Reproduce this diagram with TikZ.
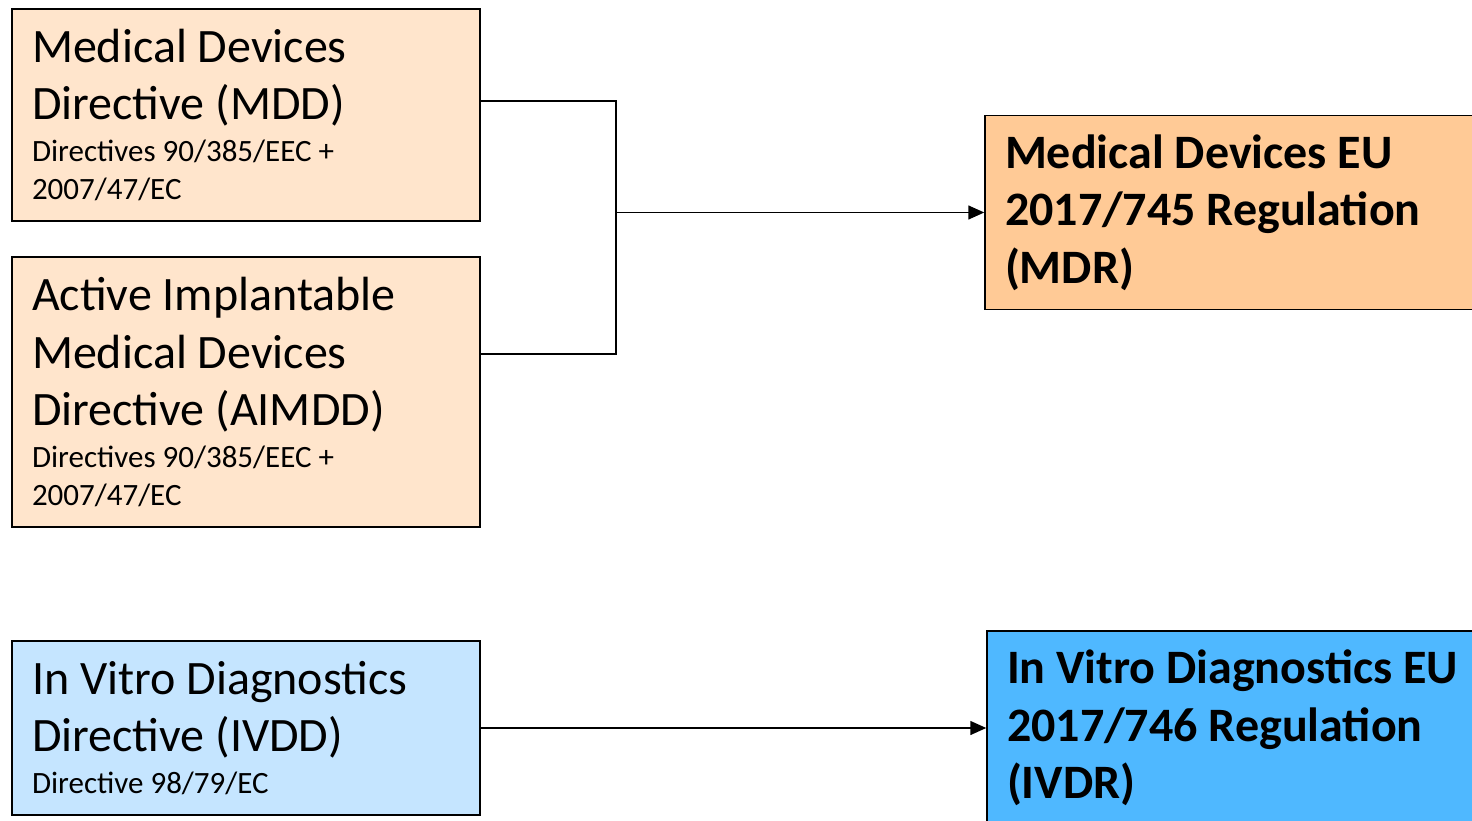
\documentclass[tikz,border=0pt]{standalone}
\usepackage{fontspec}
\setmainfont{Carlito}
\usetikzlibrary{arrows.meta}
\definecolor{oldpeach}{RGB}{255,229,204}
\definecolor{newpeach}{RGB}{255,202,150}
\definecolor{oldblue}{RGB}{197,229,255}
\definecolor{newblue}{RGB}{79,184,255}
\newcommand{\bigline}{\fontsize{48}{57.5}\selectfont\spaceskip=0pt\xspaceskip=0pt}
\newcommand{\smallline}{\par\vskip4pt\fontsize{31}{38}\selectfont\spaceskip=0pt\xspaceskip=0pt}

\begin{document}
\begin{tikzpicture}[x=1pt,y=-1pt,
  oldbox/.style={draw,line width=1.5pt,inner xsep=20pt,inner ysep=4pt,text width=428pt,
    minimum width=468pt,align=left,anchor=center},
  newbox/.style={draw,line width=1.5pt,inner xsep=20pt,inner ysep=4pt,text width=470pt,
    minimum width=510pt,minimum height=194pt,align=left,font=\bfseries},
  link/.style={line width=1.5pt},
  arrowlink/.style={line width=1.5pt,-{Triangle[length=16pt,width=14pt]}}]
  \useasboundingbox (0,0) rectangle (1472,821);
  \node[oldbox,fill=oldpeach,minimum height=212pt] (MDD) at (246,115)
    {\bigline Medical Devices\\Directive (MDD)
     \smallline Directives 90/385/EEC +\\2007/47/EC\par};
  \node[oldbox,fill=oldpeach,minimum height=270pt] (AIMDD) at (246,392)
    {\bigline Active Implantable\\Medical Devices\\Directive (AIMDD)
     \smallline Directives 90/385/EEC +\\2007/47/EC\par};
  \node[oldbox,fill=oldblue,minimum height=174pt] (IVDD) at (246,728)
    {\bigline In Vitro Diagnostics\\Directive (IVDD)
     \smallline Directive 98/79/EC\par};
  \node[newbox,fill=newpeach] (MDR) at (1240,212.5)
    {\bigline Medical Devices EU\\2017/745 Regulation\\(MDR)\par\vskip-6pt};
  \node[newbox,fill=newblue] (IVDR) at (1242,728)
    {\bigline In Vitro Diagnostics EU\\2017/746 Regulation\\(IVDR)\par\vskip-6pt};
  \coordinate (J-1) at (616,101);
  \coordinate (J-2) at (616,354);
  \coordinate (J-3) at (616,212.5);
  \draw[link] (MDD.east |- J-1) -- (J-1) -- (J-2) -- (AIMDD.east |- J-2);
  \draw[arrowlink] (J-3) -- (MDR.west);
  \draw[arrowlink] (IVDD.east) -- (IVDR.west);
\end{tikzpicture}
\end{document}
